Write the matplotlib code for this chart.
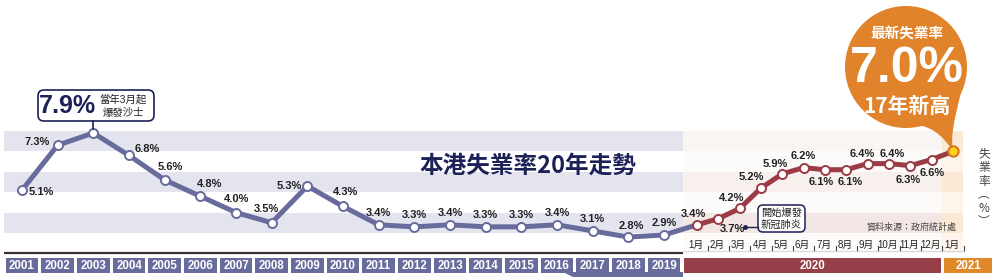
import matplotlib
matplotlib.use("Agg")
import matplotlib.pyplot as plt
from matplotlib import transforms
from matplotlib.patches import Rectangle, FancyBboxPatch, Circle, PathPatch, Polygon
from matplotlib.path import Path

plt.rcParams['font.family'] = ['Liberation Sans Narrow', 'Liberation Sans', 'Noto Sans CJK TC', 'DejaVu Sans']

# data
years = ["2001", "2002", "2003", "2004", "2005", "2006", "2007", "2008", "2009", "2010",
         "2011", "2012", "2013", "2014", "2015", "2016", "2017", "2018", "2019"]
annual = [5.1, 7.3, 7.9, 6.8, 5.6, 4.8, 4.0, 3.5, 5.3, 4.3,
          3.4, 3.3, 3.4, 3.3, 3.3, 3.4, 3.1, 2.8, 2.9]
months = ["1月", "2月", "3月", "4月", "5月", "6月", "7月", "8月", "9月", "10月", "11月", "12月", "1月"]
monthly = [3.4, 3.7, 4.2, 5.2, 5.9, 6.2, 6.1, 6.1, 6.4, 6.4, 6.3, 6.6, 7.0]

# label offsets in pixels (dx, dy up), None = no label
annual_off = [(19, -2), (-21, 3), None, (18, 6), (6, 13), (9, 12), (1, 14), (-5, 14), (-18, 0), (2, 14),
              (0, 12), (0, 12), (0, 12), (0, 12), (0, 12), (0, 12), (0, 12), (3, 11), (0, 12)]
month_off = [(-4, 11), (14, -10), (-8, 10), (-10, 11), (-7, 10), (0, 12), (-4, -12), (4, -12),
             (-5, 10), (3, 10), (-2, -14), (1, -13), None]

BLUE = "#686c9c"
RED = "#9a3b45"
ORANGE = "#e0832a"
NAVY = "#1c2158"

W, H = 1000, 277
fig = plt.figure(figsize=(W / 100, H / 100), dpi=100)
ax = fig.add_axes([0, 0, 1, 1])
ax.axis("off")

step = 35.67
ax.set_xlim(-22 / step, (W - 22) / step)
ax.set_ylim(7.9 - (H - 133) / 20.4, 7.9 + 133 / 20.4)

# pixel transform (origin top-left) and blended x-data / y-pixel
pix = transforms.Affine2D().scale(1, -1).translate(0, H)
xpix = transforms.blended_transform_factory(ax.transData, pix)

ax_x = list(range(len(annual)))
m0 = (697 - 22) / step
mstep = 21.33 / step
mon_x = [m0 + mstep * j for j in range(len(monthly))]


def dx(px):
    return (px - 22) / step


# background bands
left_a, left_b = dx(4), dx(683)
right_b, end_b = dx(942), dx(963)
right_cols = {3: "#f2e7e5", 5: "#f7f0ed", 7: "#f9f5f3"}
for lo in range(2, 8):
    grey = lo in (3, 5, 7)
    ax.add_patch(Rectangle((left_a, lo), left_b - left_a, 1, color="#e3e4ee" if grey else "white", lw=0, zorder=0))
    ax.add_patch(Rectangle((left_b, lo), right_b - left_b, 1, color=right_cols.get(lo, "#fdfbfa"), lw=0, zorder=0))
    ax.add_patch(Rectangle((right_b, lo), end_b - right_b, 1, color="#fbe9d6" if grey else "#fdf5ec", lw=0, zorder=0))
ax.plot([left_a, left_b], [2, 2], color="#3b302e", lw=1.6, zorder=1, solid_capstyle="butt")

# year bar
for i, yr in enumerate(years):
    ax.add_patch(Rectangle((i - 0.5 + 0.04, 258), 1 - 0.08, 15, transform=xpix, color=BLUE, lw=0, zorder=2))
    ax.text(i, 266, yr, transform=xpix, ha="center", va="center", color="white", fontsize=8.3, fontweight="bold")
ax.add_patch(Polygon([(563, 272), (573, 277), (683, 277), (683, 272)], closed=True, transform=pix, color=BLUE, lw=0))
x20a = len(years) - 0.5 + 0.06
x20b = mon_x[-1] - mstep / 2 - 0.03
ax.add_patch(Rectangle((x20a, 258), x20b - x20a, 15, transform=xpix, color="#963f48", lw=0, zorder=2))
ax.text((x20a + x20b) / 2, 266, "2020", transform=xpix, ha="center", va="center", color="white", fontsize=8.3, fontweight="bold")
x21a = x20b + 0.08
x21b = dx(992)
ax.add_patch(Rectangle((x21a, 258), x21b - x21a, 15, transform=xpix, color="#e0892a", lw=0, zorder=2))
ax.text((x21a + x21b) / 2, 266, "2021", transform=xpix, ha="center", va="center", color="white", fontsize=8.3, fontweight="bold")

# month axis
for j, m in enumerate(months):
    ax.text(mon_x[j] - 0.03, 245, m, transform=xpix, ha="center", va="center", fontsize=7, color="#222222")
    tx = mon_x[j] + mstep / 2
    ax.plot([tx, tx], [246, 251], transform=xpix, color="#444444", lw=0.8)
ax.plot([dx(683), mon_x[-1] + mstep / 2], [251, 251], transform=xpix, color="#d8d0ce", lw=0.6)

# lines
ax.plot(ax_x + [mon_x[0]], annual + [monthly[0]], color=BLUE, lw=3.6, zorder=3, solid_capstyle="round")
ax.plot(mon_x, monthly, color=RED, lw=3.6, zorder=3, solid_capstyle="round")
ax.plot(ax_x, annual, "o", ms=6.5, mfc="white", mec=BLUE, mew=1.4, zorder=4)
ax.plot(mon_x[:-1], monthly[:-1], "o", ms=6.5, mfc="white", mec=RED, mew=1.4, zorder=4)

# value labels
for x, v, off in zip(ax_x, annual, annual_off):
    if off:
        ax.annotate(f"{v:.1f}%", (x, v), xytext=off, textcoords="offset pixels", ha="center", va="center",
                    fontsize=8, fontweight="bold", color="#222222", zorder=5)
for x, v, off in zip(mon_x, monthly, month_off):
    if off:
        ax.annotate(f"{v:.1f}%", (x, v), xytext=off, textcoords="offset pixels", ha="center", va="center",
                    fontsize=8, fontweight="bold", color="#222222", zorder=5)

# title
ax.text(528, 166, "本港失業率20年走勢", transform=pix, ha="center", va="center", fontsize=17,
        fontweight="bold", color=NAVY, family=["Noto Sans CJK TC"])

# SARS callout
ax.add_patch(FancyBboxPatch((38, 90), 116, 31, boxstyle="round,pad=0,rounding_size=6", transform=pix,
                            fc="white", ec=NAVY, lw=1.2, zorder=6))
ax.plot([93, 93], [121, 129], transform=pix, color=NAVY, lw=1.2, zorder=6)
ax.text(67, 106, "7.9%", transform=pix, ha="center", va="center", fontsize=18, fontweight="bold", color=NAVY, zorder=7)
ax.text(123, 100, "當年3月起", transform=pix, ha="center", va="center", fontsize=7.5, color="#222222", zorder=7)
ax.text(123, 113, "爆發沙士", transform=pix, ha="center", va="center", fontsize=7.5, color="#222222", zorder=7)

# covid callout
ax.add_patch(FancyBboxPatch((758, 205), 47, 27, boxstyle="round,pad=0,rounding_size=5", transform=pix,
                            fc="white", ec=NAVY, lw=1.1, zorder=6))
ax.plot([745, 758], [227, 227], transform=pix, color=NAVY, lw=1.0, zorder=6)
ax.plot([745], [227], "o", ms=2.5, color=NAVY, transform=pix, zorder=6)
ax.text(781.5, 213, "開始爆發", transform=pix, ha="center", va="center", fontsize=7.4, color="#222222", zorder=7)
ax.text(781.5, 225, "新冠肺炎", transform=pix, ha="center", va="center", fontsize=7.4, color="#222222", zorder=7)

# source
ax.text(912, 227, "資料來源：政府統計處", transform=pix, ha="center", va="center", fontsize=6.5, color="#444444")

# vertical unit label
ax.text(984, 188, "失\n業\n率\n︵\n%\n︶", transform=pix, ha="center", va="center", fontsize=8.5,
        color="#444444", linespacing=1.05, family=["Noto Sans CJK TC", "DejaVu Sans"])

# bubble
cx, cy, r = 906, 67, 61
ax.add_patch(Circle((cx, cy), r, transform=pix, color=ORANGE, lw=0, zorder=6))
tail = Path([(961, 92), (955, 118), (950, 135), (953, 151), (944, 138), (935, 128), (918, 125), (961, 92)],
            [Path.MOVETO, Path.CURVE4, Path.CURVE4, Path.CURVE4, Path.CURVE4, Path.CURVE4, Path.CURVE4, Path.CLOSEPOLY])
ax.add_patch(PathPatch(tail, transform=pix, color=ORANGE, lw=0, zorder=6))
ax.text(907, 33, "最新失業率", transform=pix, ha="center", va="center", fontsize=10.5, fontweight="bold",
        color="white", family=["Noto Sans CJK TC"], zorder=7)
ax.text(907, 69, "7.0%", transform=pix, ha="center", va="center", fontsize=36, fontweight="bold",
        color="white", family=["Liberation Sans"], zorder=7)
ax.text(907, 106, "17年新高", transform=pix, ha="center", va="center", fontsize=15, fontweight="bold",
        color="white", family=["Noto Sans CJK TC"], zorder=7)

ax.plot(mon_x[-1:], monthly[-1:], "o", ms=7.5, mfc="#f8d21c", mec="#d8701e", mew=1.4, zorder=8)

fig.savefig("out.png", dpi=100)
